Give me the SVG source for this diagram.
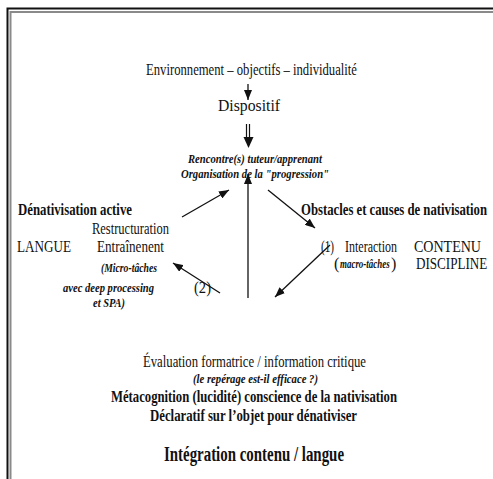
<svg xmlns="http://www.w3.org/2000/svg" width="493" height="479" viewBox="0 0 493 479">
<style>
text{fill:#111}
.r{font-size:17px}
.m{font-size:16px}
.b{font-size:16px;font-weight:bold}
.bi{font-size:12px;font-weight:bold;font-style:italic}
.bi12{font-size:13px;font-weight:bold;font-style:italic}
.t{font-size:20px;font-weight:bold}
.c{stroke:#111;stroke-width:1.3;fill:none}
</style>
<defs>
<marker id="ah" viewBox="0 0 10 8" refX="10" refY="4" markerWidth="10" markerHeight="8" markerUnits="userSpaceOnUse" orient="auto">
<path d="M0,0 L10,4 L0,8 Z" fill="#111"/>
</marker>
</defs>
<rect width="493" height="479" fill="#fff"/>
<g id="frame">
<path d="M7.5,479 V8.5 H493" fill="none" stroke="#111" stroke-width="2"/>
<path d="M10.5,479 V12 H493" fill="none" stroke="#8a8a8a" stroke-width="2"/>
</g>
<g id="connectors">
<line class="c" x1="248" y1="84" x2="248" y2="100" marker-end="url(#ah)"/>
<line x1="246.5" y1="124" x2="246.5" y2="139" stroke="#111" stroke-width="1.2"/>
<line x1="249.5" y1="124" x2="249.5" y2="139" stroke="#111" stroke-width="1.2"/>
<path d="M243.5,137 L253.5,137 L248.5,148 Z" fill="#111"/>
<line class="c" x1="248" y1="298" x2="248" y2="174" marker-end="url(#ah)"/>
<line class="c" x1="182" y1="217" x2="229" y2="190" marker-end="url(#ah)"/>
<line class="c" x1="268" y1="190" x2="315" y2="228" marker-end="url(#ah)"/>
<line class="c" x1="220" y1="293" x2="173" y2="263" marker-end="url(#ah)"/>
<line class="c" x1="330" y1="245" x2="275" y2="297" marker-end="url(#ah)"/>
</g>
<g font-family="'Liberation Serif', 'Times New Roman', serif">
<g id="top">
<text class="r" x="146" y="75" textLength="211" lengthAdjust="spacingAndGlyphs">Environnement – objectifs – individualité</text>
</g>
<g id="dispositif">
<text class="r" x="218" y="111" textLength="62" lengthAdjust="spacingAndGlyphs">Dispositif</text>
</g>
<g id="rencontre">
<text class="bi" x="188" y="163" textLength="134" lengthAdjust="spacingAndGlyphs">Rencontre(s) tuteur/apprenant</text>
<text class="bi12" x="181" y="178" textLength="148" lengthAdjust="spacingAndGlyphs">Organisation de la "progression"</text>
</g>
<g id="denativisation">
<text class="b" x="18" y="215" textLength="114" lengthAdjust="spacingAndGlyphs">Dénativisation active</text>
<text class="m" x="92" y="234" textLength="77" lengthAdjust="spacingAndGlyphs">Restructuration</text>
<text class="m" x="17" y="252" textLength="54" lengthAdjust="spacingAndGlyphs">LANGUE</text>
<text class="m" x="97" y="252" textLength="67" lengthAdjust="spacingAndGlyphs">Entraînenent</text>
<text class="bi" x="101" y="272" textLength="56" lengthAdjust="spacingAndGlyphs">(Micro-tâches</text>
<text class="bi" x="63" y="292" textLength="91" lengthAdjust="spacingAndGlyphs">avec deep processing</text>
<text class="bi" x="93" y="307" textLength="32" lengthAdjust="spacingAndGlyphs">et SPA)</text>
<text class="m" x="194" y="293" textLength="17" lengthAdjust="spacingAndGlyphs">(2)</text>
</g>
<g id="obstacles">
<text class="b" transform="translate(301,215) scale(0.75,1)" x="0" y="0" textLength="248" lengthAdjust="spacingAndGlyphs">Obstacles et causes de nativisation</text>
<text class="m" x="321" y="252" textLength="13" lengthAdjust="spacingAndGlyphs">(1)</text>
<text class="m" x="345" y="252" textLength="52" lengthAdjust="spacingAndGlyphs">Interaction</text>
<text class="m" x="414" y="252" textLength="67" lengthAdjust="spacingAndGlyphs">CONTENU</text>
<text class="m" x="334" y="269">(</text>
<text class="bi" transform="translate(340,268) scale(0.73,1)" x="0" y="0" textLength="68" lengthAdjust="spacingAndGlyphs">macro-tâches</text>
<text class="m" x="391" y="269">)</text>
<text class="m" transform="translate(416,269) scale(0.82,1)" x="0" y="0" textLength="87" lengthAdjust="spacingAndGlyphs">DISCIPLINE</text>
</g>
<g id="evaluation">
<text class="m" x="143" y="367" textLength="223" lengthAdjust="spacingAndGlyphs">Évaluation formatrice / information critique</text>
<text class="bi" x="193" y="383" textLength="125" lengthAdjust="spacingAndGlyphs">(le repérage est-il efficace ?)</text>
<text class="b" x="111" y="402" textLength="286" lengthAdjust="spacingAndGlyphs">Métacognition (lucidité) conscience de la nativisation</text>
<text class="b" x="150" y="421" textLength="207" lengthAdjust="spacingAndGlyphs">Déclaratif sur l’objet pour dénativiser</text>
</g>
<g id="integration">
<text class="t" x="164" y="461" textLength="180" lengthAdjust="spacingAndGlyphs">Intégration contenu / langue</text>
</g>
</g>
</svg>
